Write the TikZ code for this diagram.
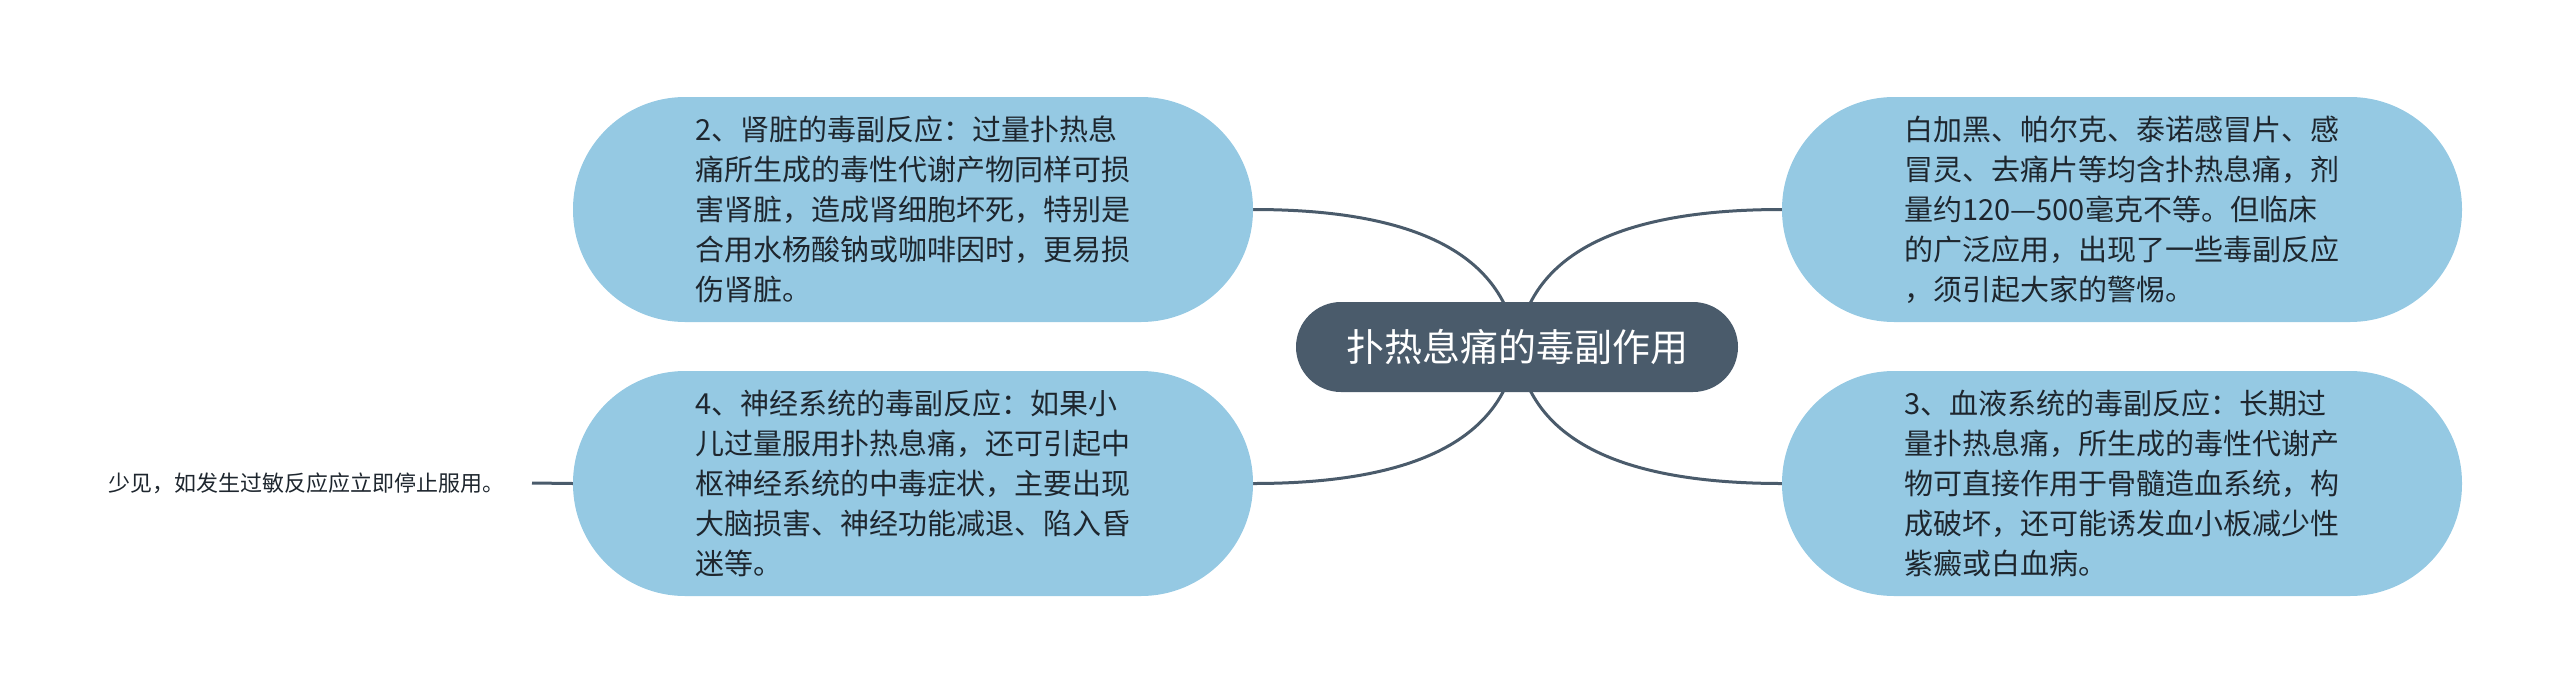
\documentclass[tikz,border=0pt]{standalone}
\usepackage{fontspec}
\setmainfont{Noto Sans CJK SC}
\usetikzlibrary{backgrounds}
\definecolor{childfill}{RGB}{149,201,227}
\definecolor{rootfill}{RGB}{74,91,107}
\definecolor{txt}{RGB}{30,38,46}
\tikzset{
  childbox/.style={draw=none, fill=childfill, rectangle, rounded corners=112pt,
    minimum width=680pt, minimum height=225pt, inner sep=0pt, align=left,
    text=txt, font=\fontsize{29}{40}\selectfont},
  rootbox/.style={draw=none, fill=rootfill, rectangle, rounded corners=45pt,
    minimum width=442pt, minimum height=90pt, inner sep=0pt,
    text=white, font=\fontsize{38}{44}\selectfont},
  leafbox/.style={inner ysep=0pt, inner xsep=27pt, text=txt,
    font=\fontsize{22}{26}\selectfont},
  conn/.style={draw=rootfill, line width=3pt}
}
\begin{document}
\begin{tikzpicture}[x=1pt,y=-1pt]
\useasboundingbox (0,0) rectangle (2560,694);
\node[rootbox] (c) at (1517,347) {扑热息痛的毒副作用};
\node[childbox] (n1) at (2122,209.5) {白加黑、帕尔克、泰诺感冒片、感\\冒灵、去痛片等均含扑热息痛，剂\\量约120—500毫克不等。但临床\\的广泛应用，出现了一些毒副反应\\，须引起大家的警惕。};
\node[childbox] (n2) at (913,209.5) {2、肾脏的毒副反应：过量扑热息\\痛所生成的毒性代谢产物同样可损\\害肾脏，造成肾细胞坏死，特别是\\合用水杨酸钠或咖啡因时，更易损\\伤肾脏。};
\node[childbox] (n3) at (2122,483.5) {3、血液系统的毒副反应：长期过\\量扑热息痛，所生成的毒性代谢产\\物可直接作用于骨髓造血系统，构\\成破坏，还可能诱发血小板减少性\\紫癜或白血病。};
\node[childbox] (n4) at (913,483.5) {4、神经系统的毒副反应：如果小\\儿过量服用扑热息痛，还可引起中\\枢神经系统的中毒症状，主要出现\\大脑损害、神经功能减退、陷入昏\\迷等。};
\node[leafbox, anchor=east] (l1) at (532,483) {少见，如发生过敏反应应立即停止服用。};
\begin{scope}[on background layer]
\draw[conn] (c.center) .. controls +(12,-92) and +(-165,0) .. (n1.west);
\draw[conn] (c.center) .. controls +(-12,-92) and +(164,0) .. (n2.east);
\draw[conn] (c.center) .. controls +(12,91) and +(-165,0) .. (n3.west);
\draw[conn] (c.center) .. controls +(-12,91) and +(164,0) .. (n4.east);
\draw[conn] (l1.east) -- (n4.west);
\end{scope}
\end{tikzpicture}
\end{document}
